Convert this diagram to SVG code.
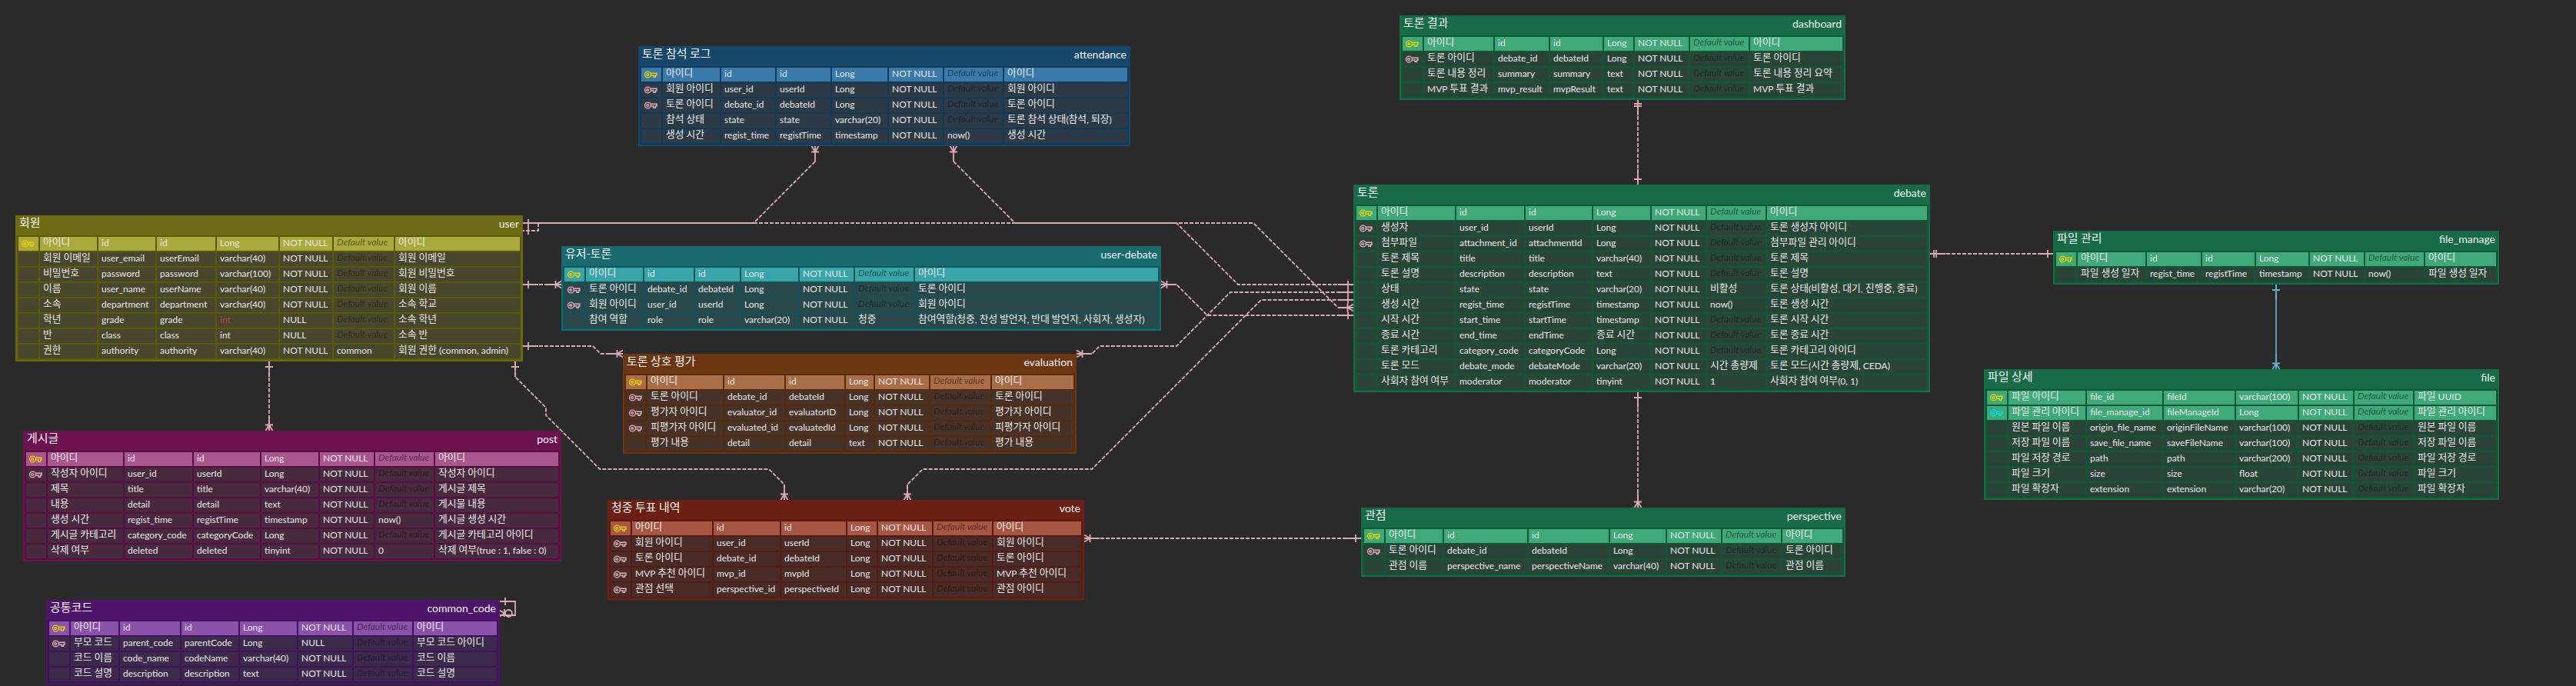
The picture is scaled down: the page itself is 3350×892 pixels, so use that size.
<svg xmlns="http://www.w3.org/2000/svg" width="3350" height="892" viewBox="0 0 3350 892">
<style>
text{fill:#e8e8e8;font-family:"Lato","Noto Sans CJK KR",sans-serif;font-size:12px;white-space:pre}
.k{font-family:"Noto Sans CJK KR","Lato",sans-serif;font-size:12.8px}
.l{font-family:"Lato","Noto Sans CJK KR",sans-serif;font-size:12px;baseline-shift:-1px}
.tk{font-family:"Noto Sans CJK KR","Lato",sans-serif;font-size:15px;fill:#f4f4f4}
.tn{font-size:14px;text-anchor:end;fill:#f4f4f4}
.d{font-style:italic;fill:#000;fill-opacity:.36}
.dh{font-style:italic;fill:#000;fill-opacity:.5}
.r{fill:#c93c3c}
.key{fill:none;stroke-width:1.4}
.pk{stroke:#ecd000}.fk{stroke:#e3adbb}.pf{stroke:#00dfe8}
.blue .bg{fill:#16486b}.blue .fr{fill:#103a58}.blue .hi{fill:#3a7aab}.blue .c{fill:#2c3a45}
.olive .bg{fill:#6d6c14}.olive .fr{fill:#5a5a08}.olive .hi{fill:#aaa93c}.olive .c{fill:#48462c}
.teal .bg{fill:#176a6d}.teal .fr{fill:#0f5558}.teal .hi{fill:#38a5a8}.teal .c{fill:#2a484a}
.brown .bg{fill:#6b3612}.brown .fr{fill:#562a0c}.brown .hi{fill:#a96e48}.brown .c{fill:#463226}
.green .bg{fill:#176b46}.green .fr{fill:#0f5836}.green .hi{fill:#40a97a}.green .c{fill:#2a4538}
.pink .bg{fill:#6c134f}.pink .fr{fill:#5a0c42}.pink .hi{fill:#a8568c}.pink .c{fill:#482a3e}
.violet .bg{fill:#4e146c}.violet .fr{fill:#40105c}.violet .hi{fill:#8a52a8}.violet .c{fill:#3c2a4a}
.red .bg{fill:#6c2014}.red .fr{fill:#561a0e}.red .hi{fill:#a85644}.red .c{fill:#482a26}
#connectors{fill:none;stroke:#dfa8b5;stroke-width:1.8}
.dash{stroke-dasharray:5 2}
#connectors .blueline{stroke:#5fb3c8}
</style>
<defs>
<g id="key"><circle cx="4.5" cy="5" r="3.9"/><circle cx="4.2" cy="5" r="1.4"/><path d="M8.4 3.3H16V6H14.5V8.2H12V6H8.4"/></g>
<g id="one"><path d="M0 0H20M7 -5V5"/></g>
<g id="oneone"><path d="M0 0H20M5 -5V5M8 -5V5"/></g>
<g id="many"><path d="M0 0H20M7.5 -5V5M7.5 0L0 -4.5M7.5 0L0 4.5"/></g>
<g id="ra"><rect x="4" y="28" width="26" height="18"/><rect x="32" y="28" width="74" height="18"/><rect x="108" y="28" width="70" height="18"/><rect x="180" y="28" width="70" height="18"/><rect x="252" y="28" width="72" height="18"/><rect x="326" y="28" width="70" height="18"/><rect x="398" y="28" width="76" height="18"/><rect x="476" y="28" width="160" height="18"/></g>
<g id="ru"><rect x="4" y="28" width="26" height="18"/><rect x="32" y="28" width="74" height="18"/><rect x="108" y="28" width="74" height="18"/><rect x="184" y="28" width="76" height="18"/><rect x="262" y="28" width="80" height="18"/><rect x="344" y="28" width="68" height="18"/><rect x="414" y="28" width="78" height="18"/><rect x="494" y="28" width="162" height="18"/></g>
<g id="rd"><rect x="4" y="28" width="26" height="18"/><rect x="32" y="28" width="74" height="18"/><rect x="108" y="28" width="64" height="18"/><rect x="174" y="28" width="58" height="18"/><rect x="234" y="28" width="74" height="18"/><rect x="310" y="28" width="70" height="18"/><rect x="382" y="28" width="76" height="18"/><rect x="460" y="28" width="316" height="18"/></g>
<g id="re"><rect x="4" y="28" width="26" height="18"/><rect x="32" y="28" width="98" height="18"/><rect x="132" y="28" width="78" height="18"/><rect x="212" y="28" width="76" height="18"/><rect x="290" y="28" width="36" height="18"/><rect x="328" y="28" width="70" height="18"/><rect x="400" y="28" width="78" height="18"/><rect x="480" y="28" width="106" height="18"/></g>
<g id="rb"><rect x="4" y="28" width="26" height="18"/><rect x="32" y="28" width="90" height="18"/><rect x="124" y="28" width="70" height="18"/><rect x="196" y="28" width="68" height="18"/><rect x="266" y="28" width="38" height="18"/><rect x="306" y="28" width="70" height="18"/><rect x="378" y="28" width="76" height="18"/><rect x="456" y="28" width="120" height="18"/></g>
<g id="rt"><rect x="4" y="28" width="26" height="18"/><rect x="32" y="28" width="100" height="18"/><rect x="134" y="28" width="88" height="18"/><rect x="224" y="28" width="86" height="18"/><rect x="312" y="28" width="74" height="18"/><rect x="388" y="28" width="70" height="18"/><rect x="460" y="28" width="76" height="18"/><rect x="538" y="28" width="208" height="18"/></g>
<g id="rm"><rect x="4" y="28" width="26" height="18"/><rect x="32" y="28" width="88" height="18"/><rect x="122" y="28" width="70" height="18"/><rect x="194" y="28" width="68" height="18"/><rect x="264" y="28" width="68" height="18"/><rect x="334" y="28" width="70" height="18"/><rect x="406" y="28" width="76" height="18"/><rect x="484" y="28" width="92" height="18"/></g>
<g id="rf"><rect x="4" y="28" width="26" height="18"/><rect x="32" y="28" width="100" height="18"/><rect x="134" y="28" width="98" height="18"/><rect x="234" y="28" width="92" height="18"/><rect x="328" y="28" width="80" height="18"/><rect x="410" y="28" width="70" height="18"/><rect x="482" y="28" width="76" height="18"/><rect x="560" y="28" width="106" height="18"/></g>
<g id="rp"><rect x="4" y="28" width="26" height="18"/><rect x="32" y="28" width="98" height="18"/><rect x="132" y="28" width="88" height="18"/><rect x="222" y="28" width="86" height="18"/><rect x="310" y="28" width="74" height="18"/><rect x="386" y="28" width="70" height="18"/><rect x="458" y="28" width="76" height="18"/><rect x="536" y="28" width="160" height="18"/></g>
<g id="rc"><rect x="4" y="28" width="26" height="18"/><rect x="32" y="28" width="62" height="18"/><rect x="96" y="28" width="78" height="18"/><rect x="176" y="28" width="74" height="18"/><rect x="252" y="28" width="74" height="18"/><rect x="328" y="28" width="70" height="18"/><rect x="400" y="28" width="76" height="18"/><rect x="478" y="28" width="108" height="18"/></g>
<g id="rv"><rect x="4" y="28" width="26" height="18"/><rect x="32" y="28" width="104" height="18"/><rect x="138" y="28" width="86" height="18"/><rect x="226" y="28" width="84" height="18"/><rect x="312" y="28" width="38" height="18"/><rect x="352" y="28" width="70" height="18"/><rect x="424" y="28" width="76" height="18"/><rect x="502" y="28" width="114" height="18"/></g>
<g id="rs"><rect x="4" y="28" width="26" height="18"/><rect x="32" y="28" width="74" height="18"/><rect x="108" y="28" width="108" height="18"/><rect x="218" y="28" width="104" height="18"/><rect x="324" y="28" width="72" height="18"/><rect x="398" y="28" width="70" height="18"/><rect x="470" y="28" width="76" height="18"/><rect x="548" y="28" width="78" height="18"/></g>
</defs>
<rect width="3350" height="892" fill="#2a2a2a"/>

<g id="connectors">
<path class="dash" d="M1060 210L980 290"/>
<path d="M980 290H700"/>
<path class="dash" d="M980 290H1630L1740 400H1760"/>
<path class="dash" d="M1240 210L1320 290H1530L1610 370H1760"/>
<path class="dash" d="M680 370H730"/>
<path class="dash" d="M1510 370H1530L1570 410H1760"/>
<path class="dash" d="M680 450H771L781 460H810"/>
<path class="dash" d="M1400 460H1420L1430 450H1530L1600 380H1760"/>
<path class="dash" d="M1180 650V630L1200 610H1420L1640 390H1760"/>
<path class="dash" d="M670 470V490L710 530V540L780 610H1000L1020 630V650"/>
<path class="dash" d="M350 470V560"/>
<path class="dash" d="M2130 130V240"/>
<path class="dash" d="M2130 510V660"/>
<path class="dash" d="M2510 330H2670"/>
<path class="blueline" d="M2960 370V480"/>
<path class="dash" d="M1410 700H1770"/>
<path d="M680 290H700"/><path class="dash" d="M700 290V300H680"/><path d="M687 295V305"/>
<path d="M650 782H670V800H650M657 777V787M650 793.5L656 797.5L650 801.5M656 792V802"/><circle cx="661.5" cy="797.5" r="4.5"/>
<use href="#one" transform="translate(680 290)"/>
<use href="#many" transform="translate(1060 190) rotate(90)"/>
<use href="#many" transform="translate(1760 400) rotate(180)"/>
<use href="#many" transform="translate(1240 190) rotate(90)"/>
<use href="#one" transform="translate(1760 370) rotate(180)"/>
<use href="#one" transform="translate(680 370)"/>
<use href="#many" transform="translate(730 370) rotate(180)"/>
<use href="#many" transform="translate(1510 370)"/>
<use href="#one" transform="translate(1760 410) rotate(180)"/>
<use href="#one" transform="translate(680 450)"/>
<use href="#many" transform="translate(810 460) rotate(180)"/>
<use href="#many" transform="translate(1400 460)"/>
<use href="#one" transform="translate(1760 380) rotate(180)"/>
<use href="#many" transform="translate(1180 650) rotate(-90)"/>
<use href="#one" transform="translate(1760 390) rotate(180)"/>
<use href="#one" transform="translate(670 470) rotate(90)"/>
<use href="#many" transform="translate(1020 650) rotate(-90)"/>
<use href="#one" transform="translate(350 470) rotate(90)"/>
<use href="#many" transform="translate(350 560) rotate(-90)"/>
<use href="#oneone" transform="translate(2130 130) rotate(90)"/>
<use href="#one" transform="translate(2130 240) rotate(-90)"/>
<use href="#one" transform="translate(2130 510) rotate(90)"/>
<use href="#many" transform="translate(2130 660) rotate(-90)"/>
<use href="#oneone" transform="translate(2510 330)"/>
<use href="#one" transform="translate(2670 330) rotate(180)"/>
<g class="blueline"><use href="#one" transform="translate(2960 370) rotate(90)"/><use href="#many" transform="translate(2960 480) rotate(-90)"/></g>
<use href="#many" transform="translate(1410 700)"/>
<use href="#one" transform="translate(1770 700) rotate(180)"/>
</g>

<g id="attendance" class="blue" transform="translate(830 60)">
<rect class="bg" width="640" height="130"/><rect class="fr" x="2" y="26" width="636" height="102"/>
<use href="#ra" class="hi"/><use href="#ra" y="20" class="c"/><use href="#ra" y="40" class="c"/><use href="#ra" y="60" class="c"/><use href="#ra" y="80" class="c"/>
<text class="tk" x="5" y="15">토론 참석 로그</text><text class="tn" x="635" y="16">attendance</text>
<use href="#key" class="key pk" x="8" y="32"/><use href="#key" class="key fk" x="8" y="52"/><use href="#key" class="key fk" x="8" y="72"/>
<text class="k" x="36" y="39">아이디</text><text x="112" y="40">id</text><text x="184" y="40">id</text><text x="256" y="40">Long</text><text x="330" y="40">NOT NULL</text><text class="dh" x="402" y="39">Default value</text><text class="k" x="480" y="39">아이디</text>
<text class="k" x="36" y="59">회원 아이디</text><text x="112" y="60">user_id</text><text x="184" y="60">userId</text><text x="256" y="60">Long</text><text x="330" y="60">NOT NULL</text><text class="d" x="402" y="59">Default value</text><text class="k" x="480" y="59">회원 아이디</text>
<text class="k" x="36" y="79">토론 아이디</text><text x="112" y="80">debate_id</text><text x="184" y="80">debateId</text><text x="256" y="80">Long</text><text x="330" y="80">NOT NULL</text><text class="d" x="402" y="79">Default value</text><text class="k" x="480" y="79">토론 아이디</text>
<text class="k" x="36" y="99">참석 상태</text><text x="112" y="100">state</text><text x="184" y="100">state</text><text x="256" y="100">varchar(20)</text><text x="330" y="100">NOT NULL</text><text class="d" x="402" y="99">Default value</text><text class="k" x="480" y="99">토론 참석 상태<tspan class="l">(</tspan>참석<tspan class="l">, </tspan>퇴장<tspan class="l">)</tspan></text>
<text class="k" x="36" y="119">생성 시간</text><text x="112" y="120">regist_time</text><text x="184" y="120">registTime</text><text x="256" y="120">timestamp</text><text x="330" y="120">NOT NULL</text><text x="402" y="120">now()</text><text class="k" x="480" y="119">생성 시간</text>
</g>

<g id="user" class="olive" transform="translate(20 280)">
<rect class="bg" width="660" height="190"/><rect class="fr" x="2" y="26" width="656" height="162"/>
<use href="#ru" class="hi"/><use href="#ru" y="20" class="c"/><use href="#ru" y="40" class="c"/><use href="#ru" y="60" class="c"/><use href="#ru" y="80" class="c"/><use href="#ru" y="100" class="c"/><use href="#ru" y="120" class="c"/><use href="#ru" y="140" class="c"/>
<text class="tk" x="5" y="15">회원</text><text class="tn" x="655" y="16">user</text>
<use href="#key" class="key pk" x="8" y="32"/>
<text class="k" x="36" y="39">아이디</text><text x="112" y="40">id</text><text x="188" y="40">id</text><text x="266" y="40">Long</text><text x="348" y="40">NOT NULL</text><text class="dh" x="418" y="39">Default value</text><text class="k" x="498" y="39">아이디</text>
<text class="k" x="36" y="59">회원 이메일</text><text x="112" y="60">user_email</text><text x="188" y="60">userEmail</text><text x="266" y="60">varchar(40)</text><text x="348" y="60">NOT NULL</text><text class="d" x="418" y="59">Default value</text><text class="k" x="498" y="59">회원 이메일</text>
<text class="k" x="36" y="79">비밀번호</text><text x="112" y="80">password</text><text x="188" y="80">password</text><text x="266" y="80">varchar(100)</text><text x="348" y="80">NOT NULL</text><text class="d" x="418" y="79">Default value</text><text class="k" x="498" y="79">회원 비밀번호</text>
<text class="k" x="36" y="99">이름</text><text x="112" y="100">user_name</text><text x="188" y="100">userName</text><text x="266" y="100">varchar(40)</text><text x="348" y="100">NOT NULL</text><text class="d" x="418" y="99">Default value</text><text class="k" x="498" y="99">회원 이름</text>
<text class="k" x="36" y="119">소속</text><text x="112" y="120">department</text><text x="188" y="120">department</text><text x="266" y="120">varchar(40)</text><text x="348" y="120">NOT NULL</text><text class="d" x="418" y="119">Default value</text><text class="k" x="498" y="119">소속 학교</text>
<text class="k" x="36" y="139">학년</text><text x="112" y="140">grade</text><text x="188" y="140">grade</text><text class="r" x="266" y="140">int</text><text x="348" y="140">NULL</text><text class="d" x="418" y="139">Default value</text><text class="k" x="498" y="139">소속 학년</text>
<text class="k" x="36" y="159">반</text><text x="112" y="160">class</text><text x="188" y="160">class</text><text x="266" y="160">int</text><text x="348" y="160">NULL</text><text class="d" x="418" y="159">Default value</text><text class="k" x="498" y="159">소속 반</text>
<text class="k" x="36" y="179">권한</text><text x="112" y="180">authority</text><text x="188" y="180">authority</text><text x="266" y="180">varchar(40)</text><text x="348" y="180">NOT NULL</text><text x="418" y="180">common</text><text class="k" x="498" y="179">회원 권한<tspan class="l"> (common, admin)</tspan></text>
</g>

<g id="user-debate" class="teal" transform="translate(730 320)">
<rect class="bg" width="780" height="110"/><rect class="fr" x="2" y="26" width="776" height="82"/>
<use href="#rd" class="hi"/><use href="#rd" y="20" class="c"/><use href="#rd" y="40" class="c"/><use href="#rd" y="60" class="c"/>
<text class="tk" x="5" y="15">유저-토론</text><text class="tn" x="775" y="16">user-debate</text>
<use href="#key" class="key pk" x="8" y="32"/><use href="#key" class="key fk" x="8" y="52"/><use href="#key" class="key fk" x="8" y="72"/>
<text class="k" x="36" y="39">아이디</text><text x="112" y="40">id</text><text x="178" y="40">id</text><text x="238" y="40">Long</text><text x="314" y="40">NOT NULL</text><text class="dh" x="386" y="39">Default value</text><text class="k" x="464" y="39">아이디</text>
<text class="k" x="36" y="59">토론 아이디</text><text x="112" y="60">debate_id</text><text x="178" y="60">debateId</text><text x="238" y="60">Long</text><text x="314" y="60">NOT NULL</text><text class="d" x="386" y="59">Default value</text><text class="k" x="464" y="59">토론 아이디</text>
<text class="k" x="36" y="79">회원 아이디</text><text x="112" y="80">user_id</text><text x="178" y="80">userId</text><text x="238" y="80">Long</text><text x="314" y="80">NOT NULL</text><text class="d" x="386" y="79">Default value</text><text class="k" x="464" y="79">회원 아이디</text>
<text class="k" x="36" y="99">참여 역할</text><text x="112" y="100">role</text><text x="178" y="100">role</text><text x="238" y="100">varchar(20)</text><text x="314" y="100">NOT NULL</text><text class="k" x="386" y="99">청중</text><text class="k" x="464" y="99">참여역할<tspan class="l">(</tspan>청중<tspan class="l">, </tspan>찬성 발언자<tspan class="l">, </tspan>반대 발언자<tspan class="l">, </tspan>사회자<tspan class="l">, </tspan>생성자<tspan class="l">)</tspan></text>
</g>

<g id="evaluation" class="brown" transform="translate(810 460)">
<rect class="bg" width="590" height="130"/><rect class="fr" x="2" y="26" width="586" height="102"/>
<use href="#re" class="hi"/><use href="#re" y="20" class="c"/><use href="#re" y="40" class="c"/><use href="#re" y="60" class="c"/><use href="#re" y="80" class="c"/>
<text class="tk" x="5" y="15">토론 상호 평가</text><text class="tn" x="585" y="16">evaluation</text>
<use href="#key" class="key pk" x="8" y="32"/><use href="#key" class="key fk" x="8" y="52"/><use href="#key" class="key fk" x="8" y="72"/><use href="#key" class="key fk" x="8" y="92"/>
<text class="k" x="36" y="39">아이디</text><text x="136" y="40">id</text><text x="216" y="40">id</text><text x="294" y="40">Long</text><text x="332" y="40">NOT NULL</text><text class="dh" x="404" y="39">Default value</text><text class="k" x="484" y="39">아이디</text>
<text class="k" x="36" y="59">토론 아이디</text><text x="136" y="60">debate_id</text><text x="216" y="60">debateId</text><text x="294" y="60">Long</text><text x="332" y="60">NOT NULL</text><text class="d" x="404" y="59">Default value</text><text class="k" x="484" y="59">토론 아이디</text>
<text class="k" x="36" y="79">평가자 아이디</text><text x="136" y="80">evaluator_id</text><text x="216" y="80">evaluatorID</text><text x="294" y="80">Long</text><text x="332" y="80">NOT NULL</text><text class="d" x="404" y="79">Default value</text><text class="k" x="484" y="79">평가자 아이디</text>
<text class="k" x="36" y="99">피평가자 아이디</text><text x="136" y="100">evaluated_id</text><text x="216" y="100">evaluatedId</text><text x="294" y="100">Long</text><text x="332" y="100">NOT NULL</text><text class="d" x="404" y="99">Default value</text><text class="k" x="484" y="99">피평가자 아이디</text>
<text class="k" x="36" y="119">평가 내용</text><text x="136" y="120">detail</text><text x="216" y="120">detail</text><text x="294" y="120">text</text><text x="332" y="120">NOT NULL</text><text class="d" x="404" y="119">Default value</text><text class="k" x="484" y="119">평가 내용</text>
</g>

<g id="dashboard" class="green" transform="translate(1820 20)">
<rect class="bg" width="580" height="110"/><rect class="fr" x="2" y="26" width="576" height="82"/>
<use href="#rb" class="hi"/><use href="#rb" y="20" class="c"/><use href="#rb" y="40" class="c"/><use href="#rb" y="60" class="c"/>
<text class="tk" x="5" y="15">토론 결과</text><text class="tn" x="575" y="16">dashboard</text>
<use href="#key" class="key pk" x="8" y="32"/><use href="#key" class="key fk" x="8" y="52"/>
<text class="k" x="36" y="39">아이디</text><text x="128" y="40">id</text><text x="200" y="40">id</text><text x="270" y="40">Long</text><text x="310" y="40">NOT NULL</text><text class="dh" x="382" y="39">Default value</text><text class="k" x="460" y="39">아이디</text>
<text class="k" x="36" y="59">토론 아이디</text><text x="128" y="60">debate_id</text><text x="200" y="60">debateId</text><text x="270" y="60">Long</text><text x="310" y="60">NOT NULL</text><text class="d" x="382" y="59">Default value</text><text class="k" x="460" y="59">토론 아이디</text>
<text class="k" x="36" y="79">토론 내용 정리</text><text x="128" y="80">summary</text><text x="200" y="80">summary</text><text x="270" y="80">text</text><text x="310" y="80">NOT NULL</text><text class="d" x="382" y="79">Default value</text><text class="k" x="460" y="79">토론 내용 정리 요약</text>
<text class="k" x="36" y="99"><tspan class="l">MVP </tspan>투표 결과</text><text x="128" y="100">mvp_result</text><text x="200" y="100">mvpResult</text><text x="270" y="100">text</text><text x="310" y="100">NOT NULL</text><text class="d" x="382" y="99">Default value</text><text class="k" x="460" y="99"><tspan class="l">MVP </tspan>투표 결과</text>
</g>

<g id="debate" class="green" transform="translate(1760 240)">
<rect class="bg" width="750" height="270"/><rect class="fr" x="2" y="26" width="746" height="242"/>
<use href="#rt" class="hi"/><use href="#rt" y="20" class="c"/><use href="#rt" y="40" class="c"/><use href="#rt" y="60" class="c"/><use href="#rt" y="80" class="c"/><use href="#rt" y="100" class="c"/><use href="#rt" y="120" class="c"/><use href="#rt" y="140" class="c"/><use href="#rt" y="160" class="c"/><use href="#rt" y="180" class="c"/><use href="#rt" y="200" class="c"/><use href="#rt" y="220" class="c"/>
<text class="tk" x="5" y="15">토론</text><text class="tn" x="745" y="16">debate</text>
<use href="#key" class="key pk" x="8" y="32"/><use href="#key" class="key fk" x="8" y="52"/><use href="#key" class="key fk" x="8" y="72"/>
<text class="k" x="36" y="39">아이디</text><text x="138" y="40">id</text><text x="228" y="40">id</text><text x="316" y="40">Long</text><text x="392" y="40">NOT NULL</text><text class="dh" x="464" y="39">Default value</text><text class="k" x="542" y="39">아이디</text>
<text class="k" x="36" y="59">생성자</text><text x="138" y="60">user_id</text><text x="228" y="60">userId</text><text x="316" y="60">Long</text><text x="392" y="60">NOT NULL</text><text class="d" x="464" y="59">Default value</text><text class="k" x="542" y="59">토론 생성자 아이디</text>
<text class="k" x="36" y="79">첨부파일</text><text x="138" y="80">attachment_id</text><text x="228" y="80">attachmentId</text><text x="316" y="80">Long</text><text x="392" y="80">NOT NULL</text><text class="d" x="464" y="79">Default value</text><text class="k" x="542" y="79">첨부파일 관리 아이디</text>
<text class="k" x="36" y="99">토론 제목</text><text x="138" y="100">title</text><text x="228" y="100">title</text><text x="316" y="100">varchar(40)</text><text x="392" y="100">NOT NULL</text><text class="d" x="464" y="99">Default value</text><text class="k" x="542" y="99">토론 제목</text>
<text class="k" x="36" y="119">토론 설명</text><text x="138" y="120">description</text><text x="228" y="120">description</text><text x="316" y="120">text</text><text x="392" y="120">NOT NULL</text><text class="d" x="464" y="119">Default value</text><text class="k" x="542" y="119">토론 설명</text>
<text class="k" x="36" y="139">상태</text><text x="138" y="140">state</text><text x="228" y="140">state</text><text x="316" y="140">varchar(20)</text><text x="392" y="140">NOT NULL</text><text class="k" x="464" y="139">비활성</text><text class="k" x="542" y="139">토론 상태<tspan class="l">(</tspan>비활성<tspan class="l">, </tspan>대기<tspan class="l">, </tspan>진행중<tspan class="l">, </tspan>종료<tspan class="l">)</tspan></text>
<text class="k" x="36" y="159">생성 시간</text><text x="138" y="160">regist_time</text><text x="228" y="160">registTime</text><text x="316" y="160">timestamp</text><text x="392" y="160">NOT NULL</text><text x="464" y="160">now()</text><text class="k" x="542" y="159">토론 생성 시간</text>
<text class="k" x="36" y="179">시작 시간</text><text x="138" y="180">start_time</text><text x="228" y="180">startTime</text><text x="316" y="180">timestamp</text><text x="392" y="180">NOT NULL</text><text class="d" x="464" y="179">Default value</text><text class="k" x="542" y="179">토론 시작 시간</text>
<text class="k" x="36" y="199">종료 시간</text><text x="138" y="200">end_time</text><text x="228" y="200">endTime</text><text class="k" x="316" y="199">종료 시간</text><text x="392" y="200">NOT NULL</text><text class="d" x="464" y="199">Default value</text><text class="k" x="542" y="199">토론 종료 시간</text>
<text class="k" x="36" y="219">토론 카테고리</text><text x="138" y="220">category_code</text><text x="228" y="220">categoryCode</text><text x="316" y="220">Long</text><text x="392" y="220">NOT NULL</text><text class="d" x="464" y="219">Default value</text><text class="k" x="542" y="219">토론 카테고리 아이디</text>
<text class="k" x="36" y="239">토론 모드</text><text x="138" y="240">debate_mode</text><text x="228" y="240">debateMode</text><text x="316" y="240">varchar(20)</text><text x="392" y="240">NOT NULL</text><text class="k" x="464" y="239">시간 총량제</text><text class="k" x="542" y="239">토론 모드<tspan class="l">(</tspan>시간 총량제<tspan class="l">, CEDA)</tspan></text>
<text class="k" x="36" y="259">사회자 참여 여부</text><text x="138" y="260">moderator</text><text x="228" y="260">moderator</text><text x="316" y="260">tinyint</text><text x="392" y="260">NOT NULL</text><text x="464" y="260">1</text><text class="k" x="542" y="259">사회자 참여 여부<tspan class="l">(0, 1)</tspan></text>
</g>

<g id="file_manage" class="green" transform="translate(2670 300)">
<rect class="bg" width="580" height="70"/><rect class="fr" x="2" y="26" width="576" height="42"/>
<use href="#rm" class="hi"/><use href="#rm" y="20" class="c"/>
<text class="tk" x="5" y="15">파일 관리</text><text class="tn" x="575" y="16">file_manage</text>
<use href="#key" class="key pk" x="8" y="32"/>
<text class="k" x="36" y="39">아이디</text><text x="126" y="40">id</text><text x="198" y="40">id</text><text x="268" y="40">Long</text><text x="338" y="40">NOT NULL</text><text class="dh" x="410" y="39">Default value</text><text class="k" x="488" y="39">아이디</text>
<text class="k" x="36" y="59">파일 생성 일자</text><text x="126" y="60">regist_time</text><text x="198" y="60">registTime</text><text x="268" y="60">timestamp</text><text x="338" y="60">NOT NULL</text><text x="410" y="60">now()</text><text class="k" x="488" y="59">파일 생성 일자</text>
</g>

<g id="file" class="green" transform="translate(2580 480)">
<rect class="bg" width="670" height="170"/><rect class="fr" x="2" y="26" width="666" height="142"/>
<use href="#rf" class="hi"/><use href="#rf" y="20" class="hi"/><use href="#rf" y="40" class="c"/><use href="#rf" y="60" class="c"/><use href="#rf" y="80" class="c"/><use href="#rf" y="100" class="c"/><use href="#rf" y="120" class="c"/>
<text class="tk" x="5" y="15">파일 상세</text><text class="tn" x="665" y="16">file</text>
<use href="#key" class="key pk" x="8" y="32"/><use href="#key" class="key pf" x="8" y="52"/>
<text class="k" x="36" y="39">파일 아이디</text><text x="138" y="40">file_id</text><text x="238" y="40">fileId</text><text x="332" y="40">varchar(100)</text><text x="414" y="40">NOT NULL</text><text class="dh" x="486" y="39">Default value</text><text class="k" x="564" y="39">파일<tspan class="l"> UUID</tspan></text>
<text class="k" x="36" y="59">파일 관리 아이디</text><text x="138" y="60">file_manage_id</text><text x="238" y="60">fileManageId</text><text x="332" y="60">Long</text><text x="414" y="60">NOT NULL</text><text class="dh" x="486" y="59">Default value</text><text class="k" x="564" y="59">파일 관리 아이디</text>
<text class="k" x="36" y="79">원본 파일 이름</text><text x="138" y="80">origin_file_name</text><text x="238" y="80">originFileName</text><text x="332" y="80">varchar(100)</text><text x="414" y="80">NOT NULL</text><text class="d" x="486" y="79">Default value</text><text class="k" x="564" y="79">원본 파일 이름</text>
<text class="k" x="36" y="99">저장 파일 이름</text><text x="138" y="100">save_file_name</text><text x="238" y="100">saveFileName</text><text x="332" y="100">varchar(100)</text><text x="414" y="100">NOT NULL</text><text class="d" x="486" y="99">Default value</text><text class="k" x="564" y="99">저장 파일 이름</text>
<text class="k" x="36" y="119">파일 저장 경로</text><text x="138" y="120">path</text><text x="238" y="120">path</text><text x="332" y="120">varchar(200)</text><text x="414" y="120">NOT NULL</text><text class="d" x="486" y="119">Default value</text><text class="k" x="564" y="119">파일 저장 경로</text>
<text class="k" x="36" y="139">파일 크기</text><text x="138" y="140">size</text><text x="238" y="140">size</text><text x="332" y="140">float</text><text x="414" y="140">NOT NULL</text><text class="d" x="486" y="139">Default value</text><text class="k" x="564" y="139">파일 크기</text>
<text class="k" x="36" y="159">파일 확장자</text><text x="138" y="160">extension</text><text x="238" y="160">extension</text><text x="332" y="160">varchar(20)</text><text x="414" y="160">NOT NULL</text><text class="d" x="486" y="159">Default value</text><text class="k" x="564" y="159">파일 확장자</text>
</g>

<g id="post" class="pink" transform="translate(30 560)">
<rect class="bg" width="700" height="170"/><rect class="fr" x="2" y="26" width="696" height="142"/>
<use href="#rp" class="hi"/><use href="#rp" y="20" class="c"/><use href="#rp" y="40" class="c"/><use href="#rp" y="60" class="c"/><use href="#rp" y="80" class="c"/><use href="#rp" y="100" class="c"/><use href="#rp" y="120" class="c"/>
<text class="tk" x="5" y="15">게시글</text><text class="tn" x="695" y="16">post</text>
<use href="#key" class="key pk" x="8" y="32"/><use href="#key" class="key fk" x="8" y="52"/>
<text class="k" x="36" y="39">아이디</text><text x="136" y="40">id</text><text x="226" y="40">id</text><text x="314" y="40">Long</text><text x="390" y="40">NOT NULL</text><text class="dh" x="462" y="39">Default value</text><text class="k" x="540" y="39">아이디</text>
<text class="k" x="36" y="59">작성자 아이디</text><text x="136" y="60">user_id</text><text x="226" y="60">userId</text><text x="314" y="60">Long</text><text x="390" y="60">NOT NULL</text><text class="d" x="462" y="59">Default value</text><text class="k" x="540" y="59">작성자 아이디</text>
<text class="k" x="36" y="79">제목</text><text x="136" y="80">title</text><text x="226" y="80">title</text><text x="314" y="80">varchar(40)</text><text x="390" y="80">NOT NULL</text><text class="d" x="462" y="79">Default value</text><text class="k" x="540" y="79">게시글 제목</text>
<text class="k" x="36" y="99">내용</text><text x="136" y="100">detail</text><text x="226" y="100">detail</text><text x="314" y="100">text</text><text x="390" y="100">NOT NULL</text><text class="d" x="462" y="99">Default value</text><text class="k" x="540" y="99">게시물 내용</text>
<text class="k" x="36" y="119">생성 시간</text><text x="136" y="120">regist_time</text><text x="226" y="120">registTime</text><text x="314" y="120">timestamp</text><text x="390" y="120">NOT NULL</text><text x="462" y="120">now()</text><text class="k" x="540" y="119">게시글 생성 시간</text>
<text class="k" x="36" y="139">게시글 카테고리</text><text x="136" y="140">category_code</text><text x="226" y="140">categoryCode</text><text x="314" y="140">Long</text><text x="390" y="140">NOT NULL</text><text class="d" x="462" y="139">Default value</text><text class="k" x="540" y="139">게시글 카테고리 아이디</text>
<text class="k" x="36" y="159">삭제 여부</text><text x="136" y="160">deleted</text><text x="226" y="160">deleted</text><text x="314" y="160">tinyint</text><text x="390" y="160">NOT NULL</text><text x="462" y="160">0</text><text class="k" x="540" y="159">삭제 여부<tspan class="l">(true : 1, false : 0)</tspan></text>
</g>

<g id="common_code" class="violet" transform="translate(60 780)">
<rect class="bg" width="590" height="110"/><rect class="fr" x="2" y="26" width="586" height="82"/>
<use href="#rc" class="hi"/><use href="#rc" y="20" class="c"/><use href="#rc" y="40" class="c"/><use href="#rc" y="60" class="c"/>
<text class="tk" x="5" y="15">공통코드</text><text class="tn" x="585" y="16">common_code</text>
<use href="#key" class="key pk" x="8" y="32"/><use href="#key" class="key fk" x="8" y="52"/>
<text class="k" x="36" y="39">아이디</text><text x="100" y="40">id</text><text x="180" y="40">id</text><text x="256" y="40">Long</text><text x="332" y="40">NOT NULL</text><text class="dh" x="404" y="39">Default value</text><text class="k" x="482" y="39">아이디</text>
<text class="k" x="36" y="59">부모 코드</text><text x="100" y="60">parent_code</text><text x="180" y="60">parentCode</text><text x="256" y="60">Long</text><text x="332" y="60">NULL</text><text class="d" x="404" y="59">Default value</text><text class="k" x="482" y="59">부모 코드 아이디</text>
<text class="k" x="36" y="79">코드 이름</text><text x="100" y="80">code_name</text><text x="180" y="80">codeName</text><text x="256" y="80">varchar(40)</text><text x="332" y="80">NOT NULL</text><text class="d" x="404" y="79">Default value</text><text class="k" x="482" y="79">코드 이름</text>
<text class="k" x="36" y="99">코드 설명</text><text x="100" y="100">description</text><text x="180" y="100">description</text><text x="256" y="100">text</text><text x="332" y="100">NOT NULL</text><text class="d" x="404" y="99">Default value</text><text class="k" x="482" y="99">코드 설명</text>
</g>

<g id="vote" class="red" transform="translate(790 650)">
<rect class="bg" width="620" height="130"/><rect class="fr" x="2" y="26" width="616" height="102"/>
<use href="#rv" class="hi"/><use href="#rv" y="20" class="c"/><use href="#rv" y="40" class="c"/><use href="#rv" y="60" class="c"/><use href="#rv" y="80" class="c"/>
<text class="tk" x="5" y="15">청중 투표 내역</text><text class="tn" x="615" y="16">vote</text>
<use href="#key" class="key pk" x="8" y="32"/><use href="#key" class="key fk" x="8" y="52"/><use href="#key" class="key fk" x="8" y="72"/><use href="#key" class="key fk" x="8" y="92"/><use href="#key" class="key fk" x="8" y="112"/>
<text class="k" x="36" y="39">아이디</text><text x="142" y="40">id</text><text x="230" y="40">id</text><text x="316" y="40">Long</text><text x="356" y="40">NOT NULL</text><text class="dh" x="428" y="39">Default value</text><text class="k" x="506" y="39">아이디</text>
<text class="k" x="36" y="59">회원 아이디</text><text x="142" y="60">user_id</text><text x="230" y="60">userId</text><text x="316" y="60">Long</text><text x="356" y="60">NOT NULL</text><text class="d" x="428" y="59">Default value</text><text class="k" x="506" y="59">회원 아이디</text>
<text class="k" x="36" y="79">토론 아이디</text><text x="142" y="80">debate_id</text><text x="230" y="80">debateId</text><text x="316" y="80">Long</text><text x="356" y="80">NOT NULL</text><text class="d" x="428" y="79">Default value</text><text class="k" x="506" y="79">토론 아이디</text>
<text class="k" x="36" y="99"><tspan class="l">MVP </tspan>추천 아이디</text><text x="142" y="100">mvp_id</text><text x="230" y="100">mvpId</text><text x="316" y="100">Long</text><text x="356" y="100">NOT NULL</text><text class="d" x="428" y="99">Default value</text><text class="k" x="506" y="99"><tspan class="l">MVP </tspan>추천 아이디</text>
<text class="k" x="36" y="119">관점 선택</text><text x="142" y="120">perspective_id</text><text x="230" y="120">perspectiveId</text><text x="316" y="120">Long</text><text x="356" y="120">NOT NULL</text><text class="d" x="428" y="119">Default value</text><text class="k" x="506" y="119">관점 아이디</text>
</g>

<g id="perspective" class="green" transform="translate(1770 660)">
<rect class="bg" width="630" height="90"/><rect class="fr" x="2" y="26" width="626" height="62"/>
<use href="#rs" class="hi"/><use href="#rs" y="20" class="c"/><use href="#rs" y="40" class="c"/>
<text class="tk" x="5" y="15">관점</text><text class="tn" x="625" y="16">perspective</text>
<use href="#key" class="key pk" x="8" y="32"/><use href="#key" class="key fk" x="8" y="52"/>
<text class="k" x="36" y="39">아이디</text><text x="112" y="40">id</text><text x="222" y="40">id</text><text x="328" y="40">Long</text><text x="402" y="40">NOT NULL</text><text class="dh" x="474" y="39">Default value</text><text class="k" x="552" y="39">아이디</text>
<text class="k" x="36" y="59">토론 아이디</text><text x="112" y="60">debate_id</text><text x="222" y="60">debateId</text><text x="328" y="60">Long</text><text x="402" y="60">NOT NULL</text><text class="d" x="474" y="59">Default value</text><text class="k" x="552" y="59">토론 아이디</text>
<text class="k" x="36" y="79">관점 이름</text><text x="112" y="80">perspective_name</text><text x="222" y="80">perspectiveName</text><text x="328" y="80">varchar(40)</text><text x="402" y="80">NOT NULL</text><text class="d" x="474" y="79">Default value</text><text class="k" x="552" y="79">관점 이름</text>
</g>
</svg>
